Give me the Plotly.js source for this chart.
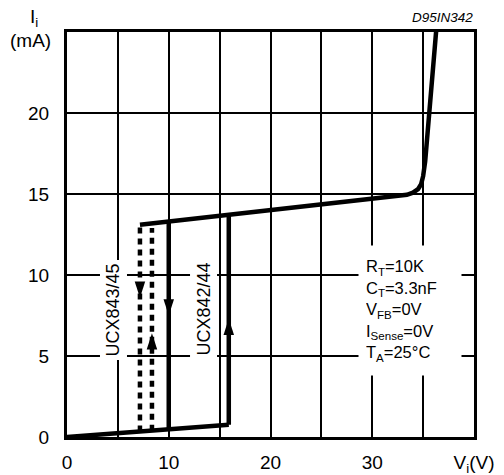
<!DOCTYPE html>
<html>
<head>
<meta charset="utf-8">
<script src="https://cdn.plot.ly/plotly-3.0.1.min.js"></script>
<style>html,body{margin:0;padding:0;background:#fff;}</style>
</head>
<body>
<div id="chart" style="width:504px;height:475px;"></div>
<script>
// Data (Vi in V, Ii in mA)
const vLow = [0, 15.9];
const iLow = [0, 0.75];
const vRise = [15.9, 15.9];
const iRise = [0.75, 13.72];
const vUpper = [7.17, 33.4, 34.0, 34.5, 34.8, 35.0, 35.2, 35.4, 35.6, 35.9, 36.3];
const iUpper = [13.1, 14.95, 15.08, 15.3, 15.6, 16.1, 17.0, 18.5, 20.0, 22.5, 25.2];
const vFall = [10, 10];
const iFall = [13.3, 0.47];
const vDash1 = [7.17, 7.17];
const iDash1 = [0.34, 13.1];
const vDash2 = [8.35, 8.35];
const iDash2 = [0.39, 12.9];
const vArrowDown = [7.17, 10];
const iArrowDown = [8.6, 7.5];
const vArrowUp = [8.35, 15.9];
const iArrowUp = [6.4, 7.3];

const xTickVals = [0, 5, 10, 15, 20, 25, 30, 35, 40];
const xTickText = ["0", "", "10", "", "20", "", "30", "", "V<sub>i</sub>(V)"];
const yTickVals = [0, 5, 10, 15, 20, 25];
const yTickText = ["0", "5", "10", "15", "20", ""];

const conditions = ["R<sub>T</sub>=10K", "C<sub>T</sub>=3.3nF", "V<sub>FB</sub>=0V", "I<sub>Sense</sub>=0V", "T<sub>A</sub>=25°C"];

const FONT = "Liberation Sans, Arial, Helvetica, sans-serif";
const lw = 4.5;
const solid = {color: "#000", width: lw};

const traces = [
  {x: vLow, y: iLow, mode: "lines", line: solid, hoverinfo: "skip"},
  {x: vRise, y: iRise, mode: "lines", line: solid, hoverinfo: "skip"},
  {x: vUpper, y: iUpper, mode: "lines", line: solid, hoverinfo: "skip"},
  {x: vFall, y: iFall, mode: "lines", line: solid, hoverinfo: "skip"},
  {x: vDash1, y: iDash1, mode: "lines", line: {color: "#000", width: 4.5, dash: "6px,5px"}, hoverinfo: "skip"},
  {x: vDash2, y: iDash2, mode: "lines", line: {color: "#000", width: 4.5, dash: "6px,5px"}, hoverinfo: "skip"},
  {x: vArrowDown, y: iArrowDown, mode: "markers", marker: {symbol: "arrow", angle: 180, size: 17, color: "#000", line: {width: 0}}, hoverinfo: "skip"},
  {x: vArrowUp, y: iArrowUp, mode: "markers", marker: {symbol: "arrow", angle: 0, size: 17, color: "#000", line: {width: 0}}, hoverinfo: "skip"}
];

const layout = {
  width: 504, height: 475,
  margin: {l: 67, r: 30, t: 32, b: 38},
  paper_bgcolor: "#fff", plot_bgcolor: "#fff",
  showlegend: false,
  font: {family: FONT, color: "#000"},
  xaxis: {
    range: [0, 40], tickmode: "array", tickvals: xTickVals, ticktext: xTickText,
    showgrid: true, gridcolor: "#000", gridwidth: 2,
    showline: true, linecolor: "#000", linewidth: 3, mirror: true,
    zeroline: false, ticks: "", ticklabelstandoff: 6,
    tickfont: {size: 19, family: FONT, color: "#000"}, fixedrange: true
  },
  yaxis: {
    range: [0, 25], tickmode: "array", tickvals: yTickVals, ticktext: yTickText,
    showgrid: true, gridcolor: "#000", gridwidth: 2,
    showline: true, linecolor: "#000", linewidth: 3, mirror: true,
    zeroline: false, ticks: "", ticklabelstandoff: 11,
    tickfont: {size: 19, family: FONT, color: "#000"}, fixedrange: true
  },
  annotations: [
    {text: "I<sub>i</sub>", x: -0.081, y: 1.034, xref: "paper", yref: "paper", xanchor: "center", yanchor: "middle", showarrow: false, font: {size: 19}},
    {text: "(mA)", x: -0.0897, y: 0.978, xref: "paper", yref: "paper", xanchor: "center", yanchor: "middle", showarrow: false, font: {size: 19}},
    {text: "<i>D95IN342</i>", x: 1.0025, y: 1.036, xref: "paper", yref: "paper", xanchor: "right", yanchor: "middle", showarrow: false, font: {size: 13.5}},
    {text: "UCX843/45", x: 4.52, y: 7.87, xref: "x", yref: "y", textangle: -90, showarrow: false, bgcolor: "#fff", borderpad: 3, font: {size: 18}},
    {text: "UCX842/44", x: 13.37, y: 7.87, xref: "x", yref: "y", textangle: -90, showarrow: false, bgcolor: "#fff", borderpad: 3, font: {size: 18}},
    {text: conditions.join("<br>"), x: 28.6, y: 7.81, xref: "x", yref: "y", xanchor: "left", yanchor: "middle",
     align: "left", valign: "middle", width: 88, height: 115, borderpad: 7, bgcolor: "#fff", showarrow: false, font: {size: 16.5}}
  ]
};

Plotly.newPlot("chart", traces, layout, {displayModeBar: false, staticPlot: true});
</script>
</body>
</html>
